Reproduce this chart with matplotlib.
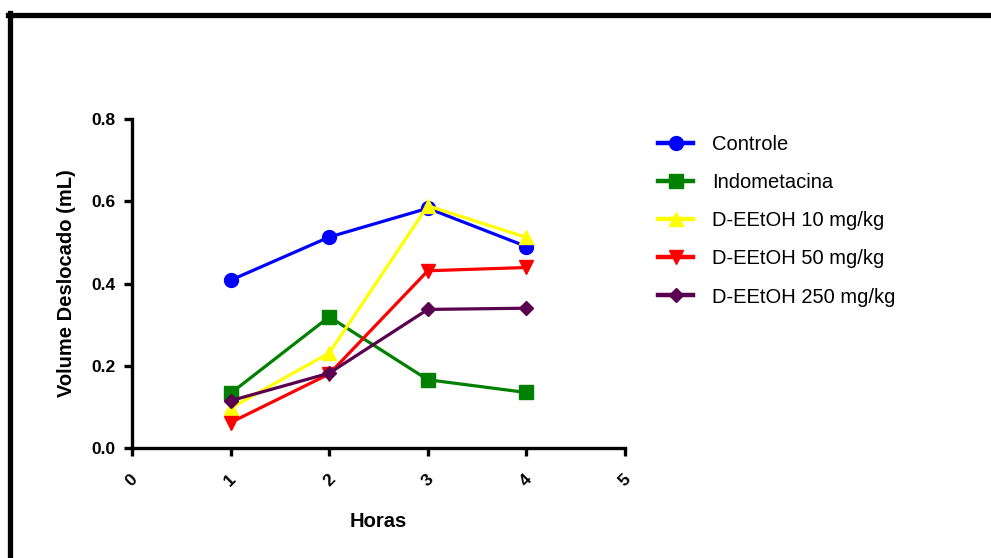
import matplotlib
matplotlib.use('Agg')
import matplotlib.pyplot as plt
from matplotlib.lines import Line2D

plt.rcParams['font.family'] = ['Liberation Sans', 'DejaVu Sans']

# Paw oedema volume over time for each group
horas = [1, 2, 3, 4]
controle = [0.408, 0.513, 0.583, 0.490]
indometacina = [0.133, 0.319, 0.166, 0.135]
deetoh_10 = [0.097, 0.231, 0.589, 0.512]
deetoh_50 = [0.062, 0.180, 0.431, 0.439]
deetoh_250 = [0.115, 0.182, 0.337, 0.340]

series = [
    ('Controle', controle, '#0000ff', 'o'),
    ('Indometacina', indometacina, '#008000', 's'),
    ('D-EEtOH 10 mg/kg', deetoh_10, '#ffff00', '^'),
    ('D-EEtOH 50 mg/kg', deetoh_50, '#ff0000', 'v'),
    ('D-EEtOH 250 mg/kg', deetoh_250, '#5a0050', 'D'),
]

fig = plt.figure(figsize=(9.91, 5.58), dpi=100)
ax = fig.add_axes([0.1332, 0.1971, 0.4975, 0.5896])

for label, vals, color, marker in series:
    ms = 7.5 if marker == 'D' else 10
    ax.plot(horas, vals, color=color, marker=marker, markersize=ms,
            linewidth=2.3, label=label, clip_on=False)

ax.set_xlim(0, 5)
ax.set_ylim(0, 0.8)
ax.set_xticks(range(0, 6))
ax.set_yticks([0.0, 0.2, 0.4, 0.6, 0.8])
ax.set_yticklabels(['0.0', '0.2', '0.4', '0.6', '0.8'])

for side in ['top', 'right']:
    ax.spines[side].set_visible(False)
for side in ['left', 'bottom']:
    ax.spines[side].set_linewidth(2.4)

ax.tick_params(axis='both', direction='out', length=6, width=2.4,
               labelsize=12.5)
ax.tick_params(axis='x', pad=17)
ax.tick_params(axis='y', pad=6)
for lab in ax.get_yticklabels():
    lab.set_fontweight('bold')
for lab in ax.get_xticklabels():
    lab.set_fontweight('bold')
    lab.set_rotation(45)
    lab.set_ha('center')
    lab.set_va('center')

ax.set_xlabel('Horas', fontsize=14.5, fontweight='bold', labelpad=17)
ax.set_ylabel('Volume Deslocado (mL)', fontsize=14.5, fontweight='bold',
              labelpad=11)

leg = ax.legend(loc='upper left', bbox_to_anchor=(658 / 991, 1 - 135 / 558),
                bbox_transform=fig.transFigure, frameon=False,
                fontsize=14.5, handlelength=1.75, handletextpad=0.95,
                labelspacing=0.95, borderaxespad=0, borderpad=0)
for h in leg.get_lines():
    h.set_linewidth(3.2)

# outer frame (top and left edges)
fig.add_artist(Line2D([0.0085, 1.0], [0.973, 0.973], transform=fig.transFigure,
                      color='black', linewidth=3.8))
fig.add_artist(Line2D([0.0105, 0.0105], [0.0, 0.976], transform=fig.transFigure,
                      color='black', linewidth=3.8))

fig.savefig('out.png', dpi=100)
